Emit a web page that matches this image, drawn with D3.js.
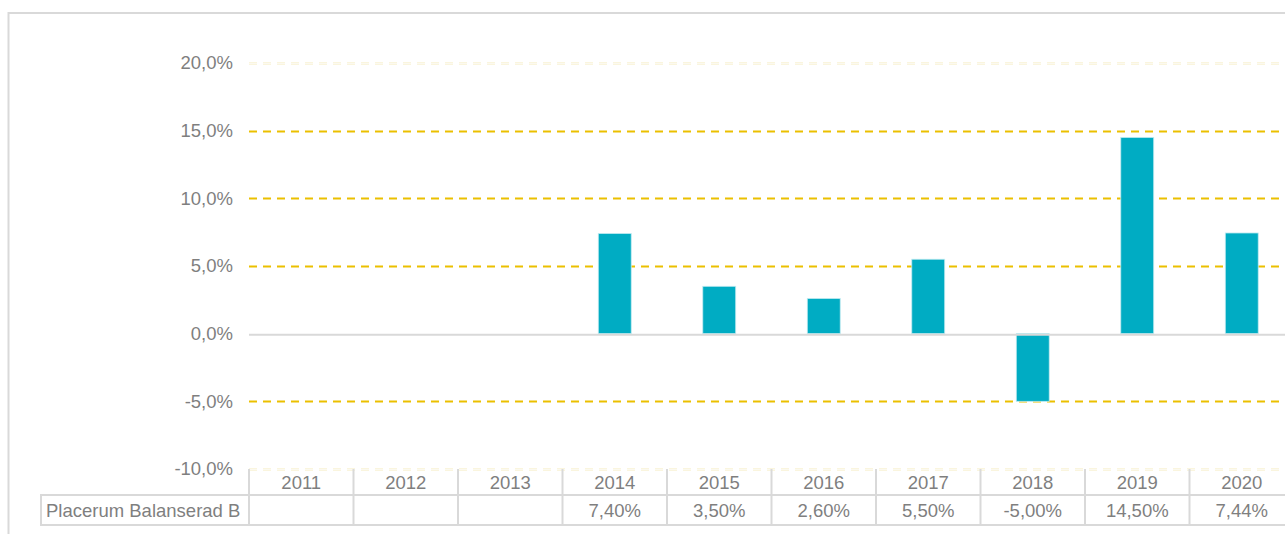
<!DOCTYPE html>
<html><head><meta charset="utf-8">
<script src="https://cdn.jsdelivr.net/npm/d3@7"></script>
<style>body{margin:0;background:#fff;}svg{display:block;font-family:"Liberation Sans",Arial,sans-serif;}</style>
</head><body>
<svg id="c" width="1285" height="534"></svg>
<script>
const categories = ["2011","2012","2013","2014","2015","2016","2017","2018","2019","2020"];
const values = [null,null,null,7.40,3.50,2.60,5.50,-5.00,14.50,7.44];
const tableLabels = ["","","","7,40%","3,50%","2,60%","5,50%","-5,00%","14,50%","7,44%"];
const seriesName = "Placerum Balanserad B";
const yTicks = [-10,-5,0,5,10,15,20];

const svg = d3.select("#c");
const textColor = "#7f7f7f";
const borderColor = "#d9d9d9";
const fs = 18.5;

// outer frame
svg.append("line").attr("x1",8.5).attr("x2",8.5).attr("y1",12).attr("y2",534).attr("stroke",borderColor).attr("stroke-width",2);
svg.append("line").attr("x1",8).attr("x2",1285).attr("y1",13).attr("y2",13).attr("stroke",borderColor).attr("stroke-width",2);

const x = d3.scaleBand().domain(categories).range([249, 249+1045]).paddingInner(0.685).paddingOuter(0.3425);
const xCell = d3.scaleBand().domain(categories).range([249, 249+1045]);
const y = d3.scaleLinear().domain([-10,20]).range([469,63]);

// gridlines
yTicks.forEach(t=>{
  const yy = Math.round(y(t))+0.5;
  if (t===0) return;
  if (t===20 || t===-10) {
    [-1,1].forEach(o=>{
      svg.append("line").attr("x1",249).attr("x2",1285).attr("y1",yy+o*0.8).attr("y2",yy+o*0.8)
        .attr("stroke","#f6ecc4").attr("stroke-width",0.7).attr("stroke-dasharray","8,6");
    });
  } else {
    svg.append("line").attr("x1",249).attr("x2",1285).attr("y1",yy).attr("y2",yy)
      .attr("stroke","#ebc000").attr("stroke-width",2).attr("stroke-dasharray","8,6");
  }
});

// y labels
svg.append("g").selectAll("text").data(yTicks).join("text")
  .attr("x",233).attr("y",d=>y(d)).attr("dy","0.35em").attr("text-anchor","end")
  .attr("fill",textColor).attr("font-size",fs).text(d=>d.toFixed(1).replace(".",",")+"%");

// bars
const data = categories.map((c,i)=>({c,v:values[i]})).filter(d=>d.v!==null);
svg.append("g").selectAll("rect").data(data).join("rect")
  .attr("x",d=>x(d.c)).attr("width",x.bandwidth())
  .attr("y",d=>y(Math.max(0,d.v))).attr("height",d=>Math.abs(y(d.v)-y(0)))
  .attr("fill","#00acc3").attr("stroke","#bfeaf0").attr("stroke-width",0.8);

// zero line
svg.append("line").attr("x1",249).attr("x2",1285).attr("y1",y(0)+1).attr("y2",y(0)+1).attr("stroke",borderColor).attr("stroke-width",2);

// table
const tHead0 = 469, tHead1 = 495, tRow1 = 525;
const tg = svg.append("g").attr("stroke",borderColor).attr("stroke-width",2).attr("fill","none");
tg.append("line").attr("x1",249).attr("x2",1285).attr("y1",tHead1).attr("y2",tHead1);
tg.append("line").attr("x1",40).attr("x2",1285).attr("y1",tRow1).attr("y2",tRow1);
tg.append("line").attr("x1",40).attr("x2",249).attr("y1",tHead1).attr("y2",tHead1);
tg.append("line").attr("x1",41).attr("x2",41).attr("y1",tHead1).attr("y2",tRow1);
categories.forEach(c=>{
  const xx = xCell(c);
  tg.append("line").attr("x1",xx).attr("x2",xx).attr("y1",tHead0).attr("y2",tRow1);
});
svg.append("g").selectAll("text").data(categories).join("text")
  .attr("x",d=>xCell(d)+xCell.bandwidth()/2).attr("y",(tHead0+tHead1)/2+1).attr("dy","0.35em")
  .attr("text-anchor","middle").attr("fill",textColor).attr("font-size",fs).text(d=>d);
svg.append("g").selectAll("text").data(categories).join("text")
  .attr("x",d=>xCell(d)+xCell.bandwidth()/2).attr("y",(tHead1+tRow1)/2+1).attr("dy","0.35em")
  .attr("text-anchor","middle").attr("fill",textColor).attr("font-size",fs).text((d,i)=>tableLabels[i]);
svg.append("text").attr("x",46).attr("y",(tHead1+tRow1)/2+1).attr("dy","0.35em")
  .attr("fill",textColor).attr("font-size",fs).text(seriesName);
</script>
</body></html>
